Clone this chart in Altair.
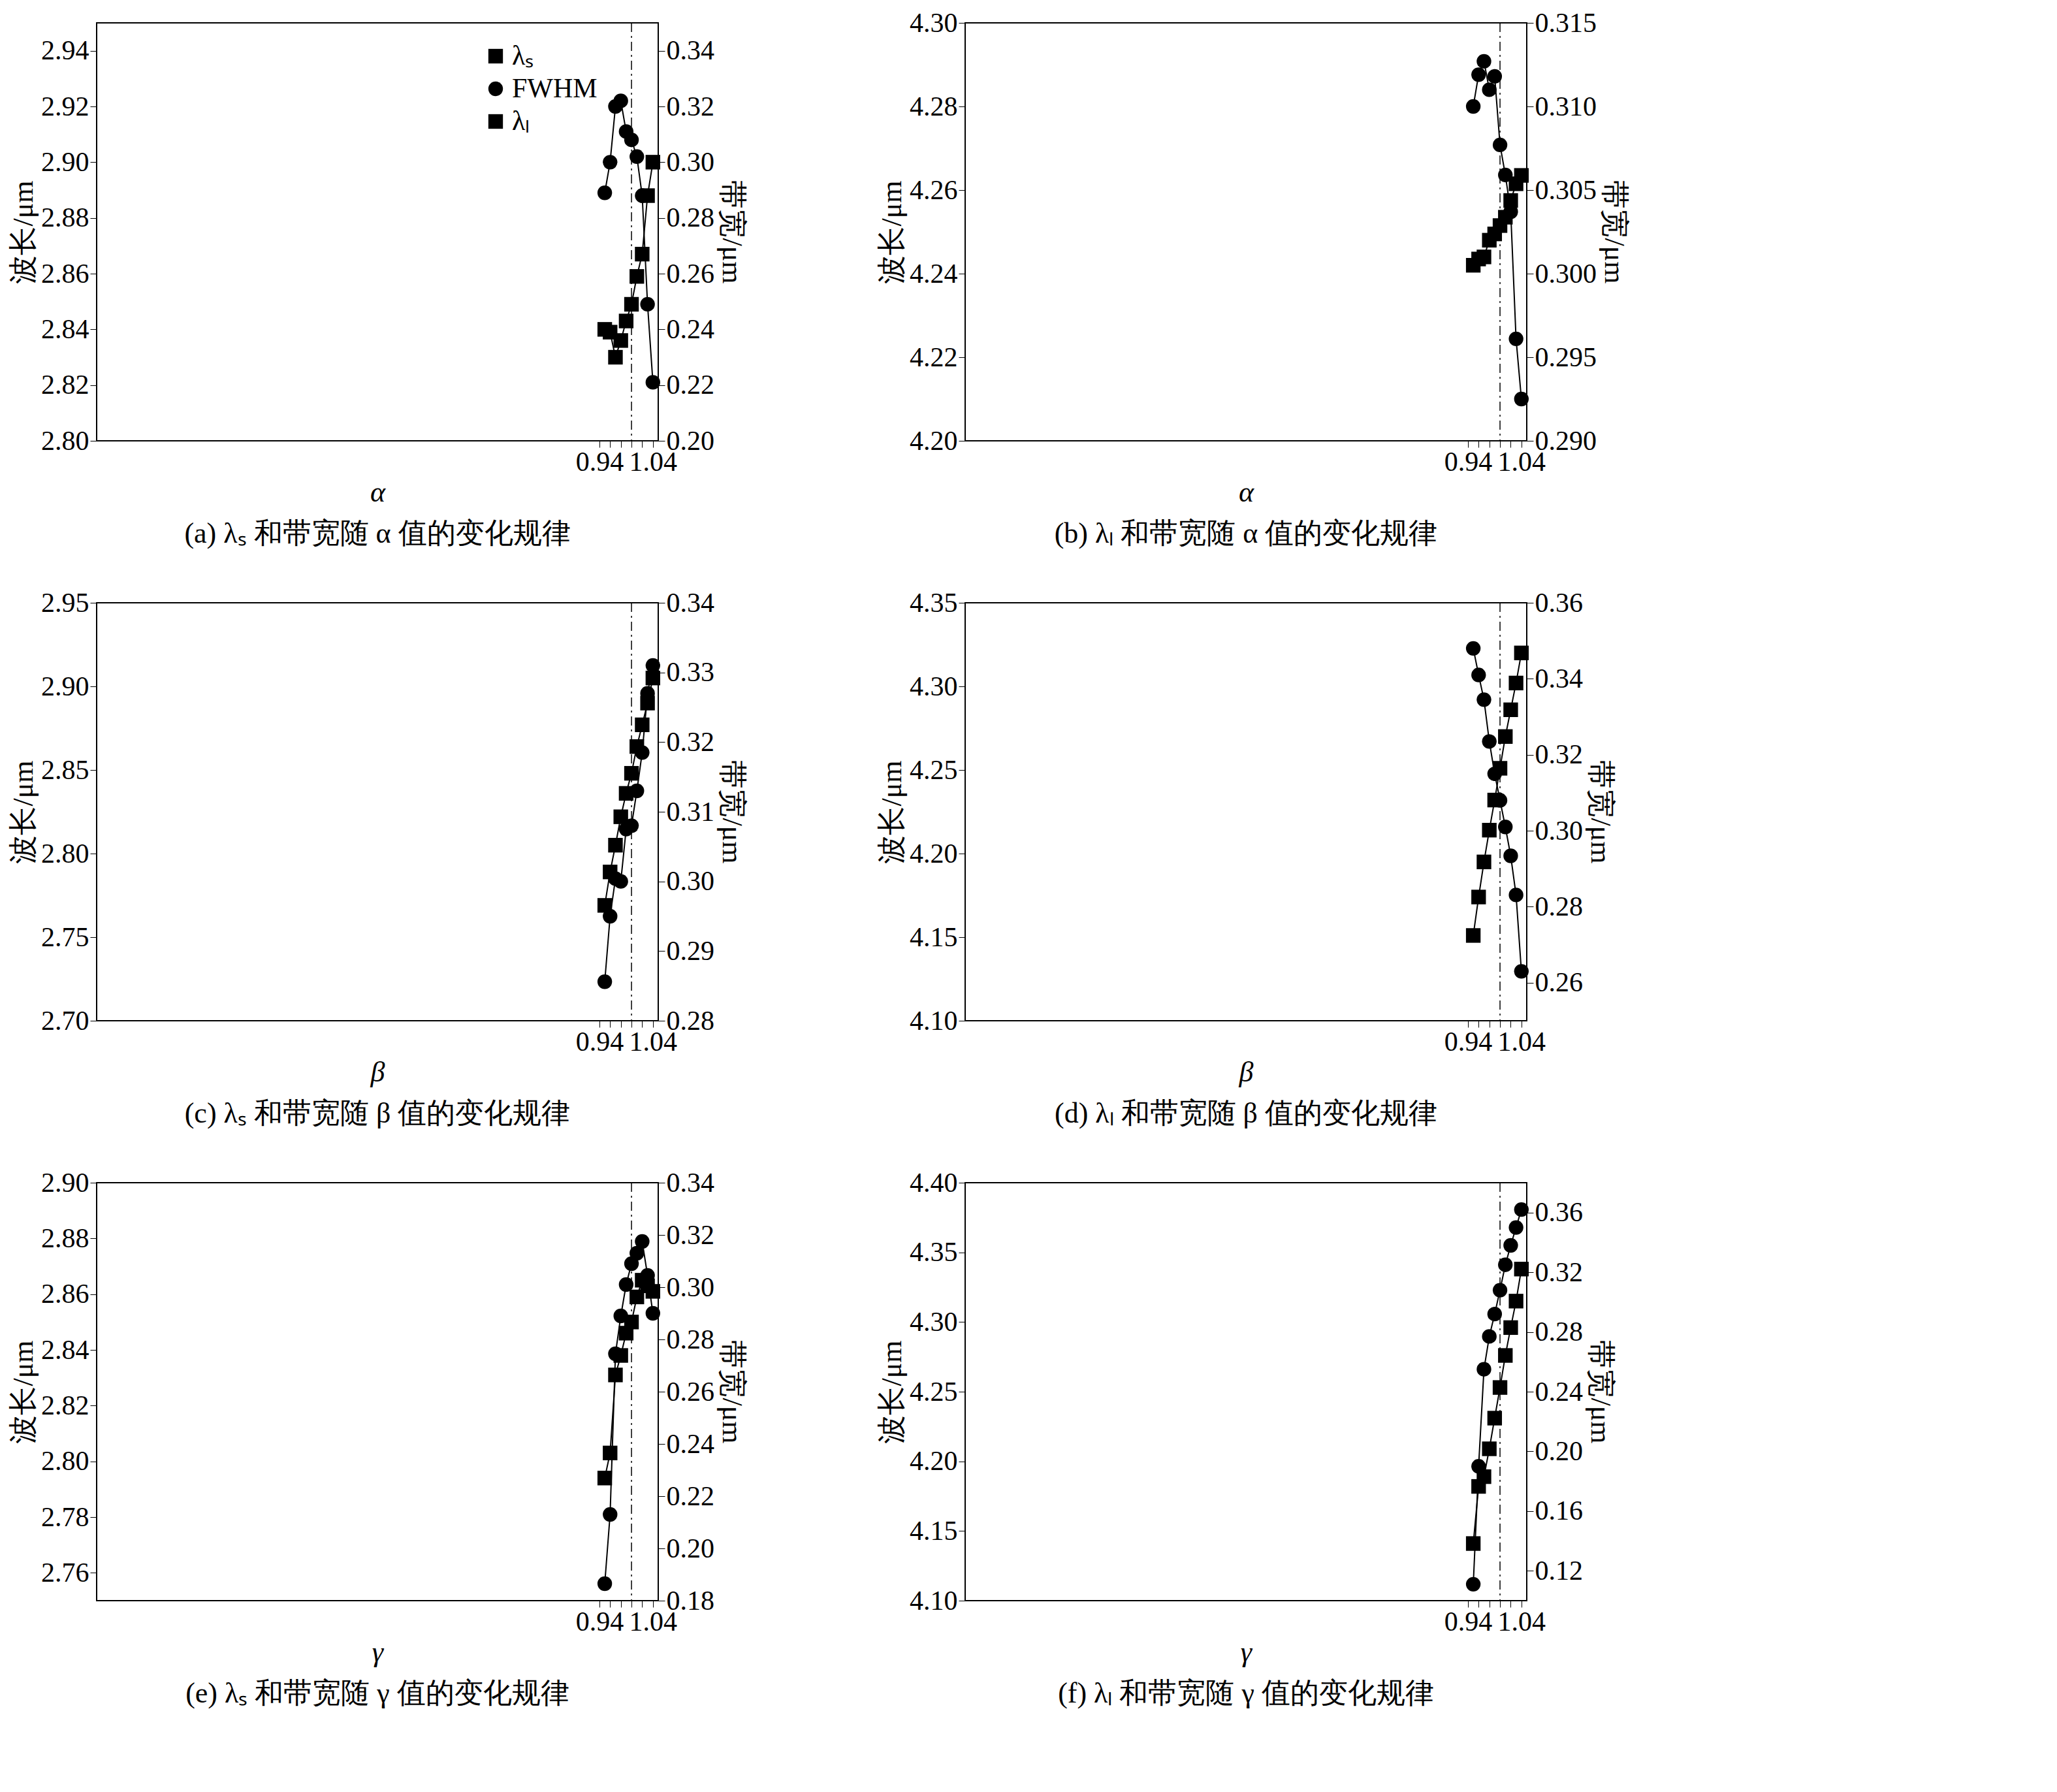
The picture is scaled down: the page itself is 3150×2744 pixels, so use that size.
import altair as alt
import pandas as pd

FONT = "Liberation Serif"

x_vals = [0.95, 0.96, 0.97, 0.98, 0.99, 1.00, 1.01, 1.02, 1.03, 1.04]

# (a) lambda_S vs alpha
a_lam = [2.840, 2.839, 2.830, 2.836, 2.843, 2.849, 2.859, 2.867, 2.888, 2.900]
a_fw = [0.289, 0.300, 0.320, 0.322, 0.311, 0.308, 0.302, 0.288, 0.249, 0.221]
# (b) lambda_L vs alpha
b_lam = [4.242, 4.2435, 4.244, 4.248, 4.2495, 4.2515, 4.2535, 4.2575, 4.2615, 4.2635]
b_fw = [0.3100, 0.3119, 0.3127, 0.3110, 0.3118, 0.3077, 0.3059, 0.3037, 0.2961, 0.2925]
# (c) lambda_S vs beta
c_lam = [2.769, 2.789, 2.805, 2.822, 2.836, 2.848, 2.864, 2.877, 2.890, 2.905]
c_fw = [0.2856, 0.295, 0.3004, 0.300, 0.3075, 0.308, 0.313, 0.3185, 0.327, 0.331]
# (d) lambda_L vs beta
d_lam = [4.151, 4.174, 4.195, 4.214, 4.232, 4.251, 4.270, 4.286, 4.302, 4.320]
d_fw = [0.348, 0.341, 0.3345, 0.3235, 0.315, 0.308, 0.301, 0.2934, 0.2831, 0.263]
# (e) lambda_S vs gamma
e_lam = [2.794, 2.803, 2.831, 2.838, 2.846, 2.850, 2.859, 2.865, 2.863, 2.861]
e_fw = [0.1865, 0.213, 0.2745, 0.289, 0.301, 0.309, 0.313, 0.3175, 0.3045, 0.290]
# (f) lambda_L vs gamma
f_lam = [4.141, 4.182, 4.189, 4.209, 4.231, 4.253, 4.276, 4.296, 4.315, 4.338]
f_fw = [0.111, 0.190, 0.255, 0.277, 0.292, 0.308, 0.325, 0.338, 0.350, 0.362]

W, H = 860, 640


def ticks(lo, hi, step):
    n = int(round((hi - lo) / step))
    return [round(lo + i * step, 4) for i in range(n + 1)]


def panel(lam, fw, sub, var, caption, ldom, lt, lfmt, rdom, rt, rfmt, legx, legy):
    lam_name = "λ" + ("ₛ" if sub == "S" else "ₗ")
    df = pd.DataFrame({"x": x_vals, "lam": lam, "fw": fw})
    df["s1"] = lam_name
    df["s2"] = "FWHM"
    xax = alt.X("x:Q", scale=alt.Scale(domain=[0.94, 1.05], nice=False),
                axis=alt.Axis(values=ticks(0.94, 1.04, 0.02), format=".2f", title=var,
                              titleFontStyle="italic"))
    shape = alt.Shape("s:N", scale=alt.Scale(domain=[lam_name, "FWHM"], range=["square", "circle"]),
                      legend=alt.Legend(title=None, orient="none", legendX=legx, legendY=legy,
                                        symbolFillColor="black", symbolStrokeColor="black",
                                        symbolSize=500, labelFontSize=42, labelFont=FONT,
                                        rowPadding=8, symbolOpacity=1))
    base = alt.Chart(df)
    l_line = base.mark_line(color="black", strokeWidth=2).encode(
        x=xax, y=alt.Y("lam:Q", scale=alt.Scale(domain=ldom, nice=False, zero=False),
                       axis=alt.Axis(values=lt, format=lfmt, title="波长/μm")))
    l_pts = base.transform_calculate(s="datum.s1").mark_point(
        filled=True, color="black", size=500, opacity=1).encode(
        x=xax, y=alt.Y("lam:Q", scale=alt.Scale(domain=ldom, nice=False, zero=False)), shape=shape)
    r_line = base.mark_line(color="black", strokeWidth=2).encode(
        x=xax, y=alt.Y("fw:Q", scale=alt.Scale(domain=rdom, nice=False, zero=False),
                       axis=alt.Axis(orient="right", values=rt, format=rfmt, title="带宽/μm",
                                     titleAngle=90)))
    r_pts = base.transform_calculate(s="datum.s2").mark_point(
        filled=True, color="black", size=500, opacity=1).encode(
        x=xax, y=alt.Y("fw:Q", scale=alt.Scale(domain=rdom, nice=False, zero=False)), shape=shape)
    rule = alt.Chart(pd.DataFrame({"x": [1.0]})).mark_rule(
        color="black", strokeWidth=1.5, strokeDash=[14, 6, 3, 6]).encode(x="x:Q")
    left = alt.layer(rule, l_line, l_pts)
    right = alt.layer(r_line, r_pts)
    return alt.layer(left, right).resolve_scale(y="independent").properties(
        width=W, height=H,
        title=alt.TitleParams(caption, orient="bottom", fontSize=44, font=FONT,
                              fontWeight="normal", offset=20))


pa = panel(a_lam, a_fw, "S", "α", "(a) λₛ 和带宽随 α 值的变化规律",
           [2.80, 2.95], ticks(2.80, 2.94, 0.02), ".2f", [0.20, 0.35], ticks(0.20, 0.34, 0.02), ".2f", 590, 30)
pb = panel(b_lam, b_fw, "L", "α", "(b) λₗ 和带宽随 α 值的变化规律",
           [4.20, 4.30], ticks(4.20, 4.30, 0.02), ".2f", [0.290, 0.315], ticks(0.290, 0.315, 0.005), ".3f", 590, 30)
pc = panel(c_lam, c_fw, "S", "β", "(c) λₛ 和带宽随 β 值的变化规律",
           [2.70, 2.95], ticks(2.70, 2.95, 0.05), ".2f", [0.28, 0.34], ticks(0.28, 0.34, 0.01), ".2f", 200, 30)
pd_ = panel(d_lam, d_fw, "L", "β", "(d) λₗ 和带宽随 β 值的变化规律",
            [4.10, 4.35], ticks(4.10, 4.35, 0.05), ".2f", [0.25, 0.36], ticks(0.26, 0.36, 0.02), ".2f", 250, 10)
pe = panel(e_lam, e_fw, "S", "γ", "(e) λₛ 和带宽随 γ 值的变化规律",
           [2.75, 2.90], ticks(2.76, 2.90, 0.02), ".2f", [0.18, 0.34], ticks(0.18, 0.34, 0.02), ".2f", 130, 10)
pf = panel(f_lam, f_fw, "L", "γ", "(f) λₗ 和带宽随 γ 值的变化规律",
           [4.10, 4.40], ticks(4.10, 4.40, 0.05), ".2f", [0.10, 0.38], ticks(0.12, 0.36, 0.04), ".2f", 190, 10)

chart = alt.vconcat(
    alt.hconcat(pa, pb, spacing=200),
    alt.hconcat(pc, pd_, spacing=200),
    alt.hconcat(pe, pf, spacing=200),
    spacing=60,
).properties(background="white").configure_view(stroke="black", strokeWidth=2).configure_axis(
    labelFont=FONT, titleFont=FONT, labelFontSize=42, titleFontSize=44,
    titleFontWeight="normal", grid=False, domainColor="black", tickColor="black",
    labelColor="black", titleColor="black", tickSize=10,
)

chart.save("out.html", embed_options={"renderer": "svg", "actions": False})
